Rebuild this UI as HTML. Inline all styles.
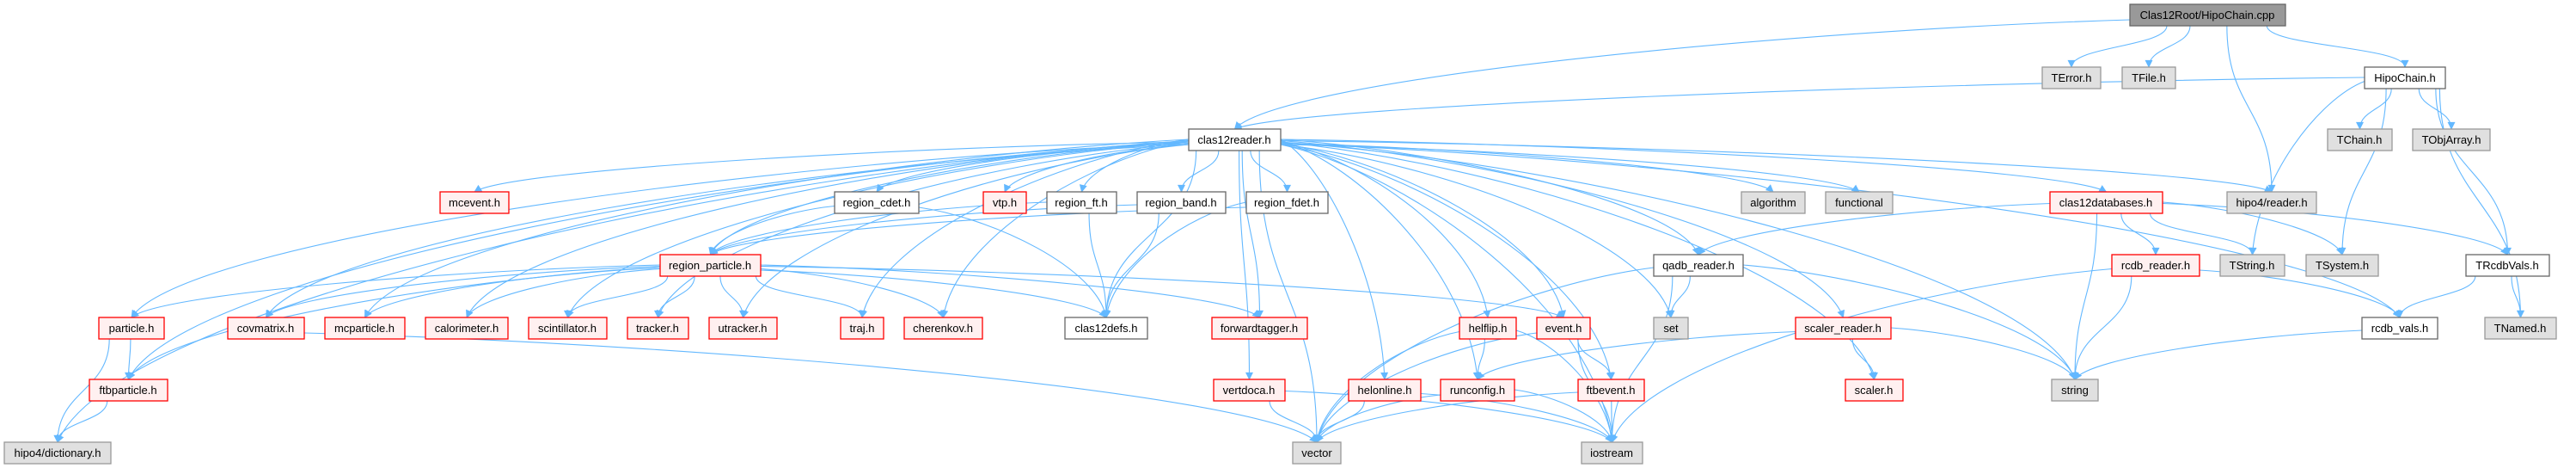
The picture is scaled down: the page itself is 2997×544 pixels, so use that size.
<!DOCTYPE html>
<html><head><meta charset="utf-8"><style>
html,body{margin:0;padding:0;background:#fff;}
svg{display:block;}
text{font-family:"Liberation Sans",Arial,sans-serif;font-size:13px;fill:#000;text-anchor:middle;}
.g rect{fill:#e0e0e0;stroke:#999;stroke-width:1.3}
.w rect{fill:#fff;stroke:#666;stroke-width:1.3}
.r rect{fill:#fff0f0;stroke:#f00;stroke-width:1.3}
.root rect{fill:#999;stroke:#666;stroke-width:1.3}
path.e{fill:none;stroke:#63b8ff;stroke-width:1.1}
</style></head><body>
<svg id="s" width="2997" height="544" viewBox="0 0 2997 544" xmlns="http://www.w3.org/2000/svg">
<defs><marker id="a" viewBox="0 0 10 10" refX="9" refY="5" markerWidth="11" markerHeight="9" orient="auto" markerUnits="userSpaceOnUse"><path d="M0,0 L10,5 L0,10 z" fill="#63b8ff"/></marker></defs>
<g id="E"></g>
<g id="root" class="root"><rect x="2478" y="5" width="181" height="25"/><text x="2568" y="22">Clas12Root/HipoChain.cpp</text></g>
<g id="terror" class="g"><rect x="2376" y="78" width="68" height="25"/><text x="2410" y="95">TError.h</text></g>
<g id="tfile" class="g"><rect x="2469" y="78" width="62" height="25"/><text x="2500" y="95">TFile.h</text></g>
<g id="hipochain" class="w"><rect x="2751" y="78" width="94" height="25"/><text x="2798" y="95">HipoChain.h</text></g>
<g id="c12r" class="w"><rect x="1383" y="150" width="107" height="25"/><text x="1436" y="167">clas12reader.h</text></g>
<g id="tchain" class="g"><rect x="2708" y="150" width="75" height="25"/><text x="2745" y="167">TChain.h</text></g>
<g id="tobj" class="g"><rect x="2807" y="150" width="90" height="25"/><text x="2852" y="167">TObjArray.h</text></g>
<g id="mcevent" class="r"><rect x="512" y="223" width="80" height="25"/><text x="552" y="240">mcevent.h</text></g>
<g id="rcdet" class="w"><rect x="971" y="223" width="98" height="25"/><text x="1020" y="240">region_cdet.h</text></g>
<g id="vtp" class="r"><rect x="1144" y="223" width="50" height="25"/><text x="1169" y="240">vtp.h</text></g>
<g id="rft" class="w"><rect x="1218" y="223" width="81" height="25"/><text x="1258" y="240">region_ft.h</text></g>
<g id="rband" class="w"><rect x="1323" y="223" width="103" height="25"/><text x="1374" y="240">region_band.h</text></g>
<g id="rfdet" class="w"><rect x="1450" y="223" width="95" height="25"/><text x="1497" y="240">region_fdet.h</text></g>
<g id="algo" class="g"><rect x="2026" y="223" width="74" height="25"/><text x="2063" y="240">algorithm</text></g>
<g id="func" class="g"><rect x="2124" y="223" width="78" height="25"/><text x="2163" y="240">functional</text></g>
<g id="c12db" class="r"><rect x="2385" y="223" width="131" height="25"/><text x="2450" y="240">clas12databases.h</text></g>
<g id="hreader" class="g"><rect x="2591" y="223" width="104" height="25"/><text x="2643" y="240">hipo4/reader.h</text></g>
<g id="rpart" class="r"><rect x="768" y="296" width="117" height="25"/><text x="826" y="313">region_particle.h</text></g>
<g id="qadb" class="w"><rect x="1924" y="296" width="104" height="25"/><text x="1976" y="313">qadb_reader.h</text></g>
<g id="rcdbr" class="r"><rect x="2457" y="296" width="102" height="25"/><text x="2508" y="313">rcdb_reader.h</text></g>
<g id="tstring" class="g"><rect x="2583" y="296" width="75" height="25"/><text x="2620" y="313">TString.h</text></g>
<g id="tsystem" class="g"><rect x="2683" y="296" width="84" height="25"/><text x="2725" y="313">TSystem.h</text></g>
<g id="trcdb" class="w"><rect x="2869" y="296" width="97" height="25"/><text x="2917" y="313">TRcdbVals.h</text></g>
<g id="particle" class="r"><rect x="115" y="369" width="76" height="25"/><text x="153" y="386">particle.h</text></g>
<g id="covm" class="r"><rect x="265" y="369" width="89" height="25"/><text x="309" y="386">covmatrix.h</text></g>
<g id="mcpart" class="r"><rect x="378" y="369" width="93" height="25"/><text x="424" y="386">mcparticle.h</text></g>
<g id="calo" class="r"><rect x="495" y="369" width="96" height="25"/><text x="543" y="386">calorimeter.h</text></g>
<g id="scint" class="r"><rect x="615" y="369" width="91" height="25"/><text x="660" y="386">scintillator.h</text></g>
<g id="tracker" class="r"><rect x="730" y="369" width="71" height="25"/><text x="765" y="386">tracker.h</text></g>
<g id="utracker" class="r"><rect x="825" y="369" width="79" height="25"/><text x="864" y="386">utracker.h</text></g>
<g id="traj" class="r"><rect x="978" y="369" width="50" height="25"/><text x="1003" y="386">traj.h</text></g>
<g id="cher" class="r"><rect x="1052" y="369" width="91" height="25"/><text x="1097" y="386">cherenkov.h</text></g>
<g id="defs" class="w"><rect x="1239" y="369" width="96" height="25"/><text x="1287" y="386">clas12defs.h</text></g>
<g id="ftag" class="r"><rect x="1410" y="369" width="111" height="25"/><text x="1465" y="386">forwardtagger.h</text></g>
<g id="helflip" class="r"><rect x="1698" y="369" width="66" height="25"/><text x="1731" y="386">helflip.h</text></g>
<g id="event" class="r"><rect x="1788" y="369" width="62" height="25"/><text x="1819" y="386">event.h</text></g>
<g id="set" class="g"><rect x="1924" y="369" width="40" height="25"/><text x="1944" y="386">set</text></g>
<g id="scalr" class="r"><rect x="2089" y="369" width="111" height="25"/><text x="2144" y="386">scaler_reader.h</text></g>
<g id="rcdbv" class="w"><rect x="2748" y="369" width="88" height="25"/><text x="2792" y="386">rcdb_vals.h</text></g>
<g id="tnamed" class="g"><rect x="2891" y="369" width="83" height="25"/><text x="2932" y="386">TNamed.h</text></g>
<g id="ftbpart" class="r"><rect x="104" y="441" width="91" height="25"/><text x="149" y="458">ftbparticle.h</text></g>
<g id="vertdoca" class="r"><rect x="1412" y="441" width="83" height="25"/><text x="1453" y="458">vertdoca.h</text></g>
<g id="helon" class="r"><rect x="1569" y="441" width="84" height="25"/><text x="1611" y="458">helonline.h</text></g>
<g id="runcfg" class="r"><rect x="1676" y="441" width="86" height="25"/><text x="1719" y="458">runconfig.h</text></g>
<g id="ftbev" class="r"><rect x="1836" y="441" width="77" height="25"/><text x="1874" y="458">ftbevent.h</text></g>
<g id="scaler" class="r"><rect x="2147" y="441" width="67" height="25"/><text x="2180" y="458">scaler.h</text></g>
<g id="string" class="g"><rect x="2387" y="441" width="54" height="25"/><text x="2414" y="458">string</text></g>
<g id="dict" class="g"><rect x="5" y="514" width="124" height="25"/><text x="67" y="531">hipo4/dictionary.h</text></g>
<g id="vector" class="g"><rect x="1504" y="514" width="56" height="25"/><text x="1532" y="531">vector</text></g>
<g id="iostream" class="g"><rect x="1840" y="514" width="71" height="25"/><text x="1875" y="531">iostream</text></g>
</svg>
<script>
var E=[["root","terror"],["root","tfile"],["root","hipochain"],["root","hreader"],["root","c12r"],
["hipochain","c12r"],["hipochain","tchain"],["hipochain","tobj"],["hipochain","tstring"],["hipochain","tsystem"],["hipochain","trcdb"],["hipochain","tnamed"],
["c12r","mcevent"],["c12r","particle"],["c12r","covm"],["c12r","mcpart"],["c12r","calo"],["c12r","scint"],["c12r","tracker"],["c12r","utracker"],["c12r","traj"],["c12r","cher"],["c12r","rpart"],["c12r","rcdet"],["c12r","vtp"],["c12r","rft"],["c12r","rband"],["c12r","rfdet"],["c12r","defs"],["c12r","ftag"],["c12r","vertdoca"],["c12r","dict"],["c12r","ftbpart"],["c12r","vector"],["c12r","iostream"],["c12r","helon"],["c12r","runcfg"],["c12r","helflip"],["c12r","event"],["c12r","ftbev"],["c12r","qadb"],["c12r","scalr"],["c12r","scaler"],["c12r","algo"],["c12r","func"],["c12r","c12db"],["c12r","hreader"],["c12r","string"],["c12r","rcdbv"],["c12r","set"],
["rpart","particle"],["rpart","covm"],["rpart","mcpart"],["rpart","calo"],["rpart","scint"],["rpart","tracker"],["rpart","utracker"],["rpart","traj"],["rpart","cher"],["rpart","defs"],["rpart","ftag"],["rpart","event"],["rpart","ftbpart"],
["rcdet","rpart"],["rcdet","defs"],["rft","rpart"],["rft","defs"],["rband","rpart"],["rband","defs"],["rfdet","rpart"],["rfdet","defs"],
["particle","ftbpart"],["particle","dict"],["ftbpart","dict"],["covm","vector"],
["vertdoca","vector"],["vertdoca","iostream"],["helon","vector"],["helon","iostream"],["runcfg","vector"],["runcfg","iostream"],
["helflip","runcfg"],["helflip","iostream"],["helflip","vector"],["event","vector"],["event","ftbev"],["event","iostream"],["ftbev","vector"],["ftbev","iostream"],
["qadb","set"],["qadb","string"],["qadb","iostream"],["qadb","vector"],["scalr","runcfg"],["scalr","scaler"],["scalr","string"],
["c12db","qadb"],["c12db","rcdbr"],["c12db","string"],["c12db","tstring"],["c12db","tsystem"],["c12db","trcdb"],
["rcdbr","string"],["rcdbr","iostream"],["rcdbr","rcdbv"],["trcdb","rcdbv"],["trcdb","tnamed"],["rcdbv","string"]];
function R(id){var r=document.querySelector('#'+id+' rect');return{x:+r.getAttribute('x'),y:+r.getAttribute('y'),w:+r.getAttribute('width'),h:+r.getAttribute('height')};}
var g=document.getElementById('E'),ns="http://www.w3.org/2000/svg";
E.forEach(function(e,i){var a=R(e[0]),b=R(e[1]);
var sx=a.x+a.w/2,sy=a.y+a.h,tx=b.x+b.w/2,ty=b.y,d;
var dx=tx-sx;
if(Math.abs(dx)>a.w*1.6){
 sy=a.y+a.h*0.6+((i%5)-2)*1.5;sx=dx<0?a.x:a.x+a.w;
 var ddx=tx-sx,dy=ty-sy;
 d="M"+sx+","+sy+" C"+(sx+ddx*0.4)+","+(sy+dy*0.1)+" "+(tx-ddx*0.05)+","+(ty-dy*0.45)+" "+tx+","+ty;
}else{
 sx+=dx*0.3;
 var dy=ty-sy;d="M"+sx+","+sy+" C"+sx+","+(sy+dy*0.5)+" "+tx+","+(ty-dy*0.5)+" "+tx+","+ty;
}
var p=document.createElementNS(ns,'path');p.setAttribute('d',d);p.setAttribute('class','e');p.setAttribute('marker-end','url(#a)');g.appendChild(p);});
</script>
</body></html>
